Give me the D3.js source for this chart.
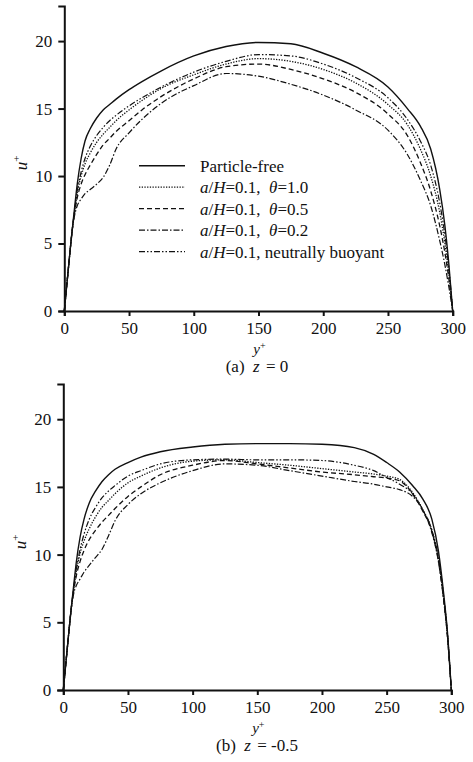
<!DOCTYPE html>
<html>
<head>
<meta charset="utf-8">
<script src="https://cdn.jsdelivr.net/npm/d3@7"></script>
<style>
  body { margin: 0; background: #fff; }
  svg { display: block; }
  text { font-family: "Liberation Serif", "Times New Roman", "DejaVu Serif", serif; fill: #111; }
</style>
</head>
<body>
<div id="container"></div>
<script>
/**
 * CONSTANTS AND GLOBALS
 * */
const width = 473,
  height = 762;

const yPlusA = [0, 2, 4, 6, 8, 10, 13, 16, 20, 25, 30, 35, 40, 50, 60, 75, 100, 125, 150, 175, 200, 225, 250, 265, 275, 283, 290, 294, 297, 300];
const yPlusB = [0, 2, 4, 6, 8, 10, 13, 16, 20, 25, 30, 35, 40, 50, 60, 75, 100, 125, 150, 175, 200, 225, 240, 250, 260, 270, 278, 285, 290, 294, 297, 300];

// (a) z = 0
const freeA    = [0, 2, 4, 5.9, 7.7, 9.4, 11.3, 12.6, 13.5, 14.3, 14.9, 15.3, 15.7, 16.4, 17.0, 17.8, 18.9, 19.6, 19.9, 19.8, 19.1, 18.1, 16.6, 15.0, 13.7, 12.0, 9.0, 6.3, 3.5, 0];
const theta10A = [0, 2, 4, 5.9, 7.4, 8.7, 10.0, 10.9, 11.7, 12.5, 13.1, 13.6, 14.1, 14.9, 15.6, 16.5, 17.5, 18.3, 18.7, 18.5, 17.9, 16.9, 15.3, 13.8, 12.0, 10.0, 7.3, 5.0, 2.8, 0];
const theta05A = [0, 2, 4, 5.9, 7.3, 8.4, 9.4, 10.1, 10.8, 11.6, 12.3, 12.8, 13.3, 14.1, 14.9, 15.9, 17.2, 18.1, 18.3, 17.9, 17.2, 16.2, 14.6, 13.0, 11.0, 8.9, 6.3, 4.3, 2.4, 0];
const theta02A = [0, 2, 4, 5.9, 7.1, 7.8, 8.3, 8.7, 9.0, 9.4, 9.9, 10.8, 12.0, 13.2, 14.2, 15.4, 16.7, 17.6, 17.4, 16.8, 16.0, 14.9, 13.4, 11.6, 9.7, 7.8, 5.2, 3.4, 1.8, 0];
const buoyantA = [0, 2, 4, 5.9, 7.5, 8.9, 10.3, 11.3, 12.2, 13.0, 13.6, 14.1, 14.5, 15.2, 15.8, 16.6, 17.7, 18.5, 19.0, 18.9, 18.3, 17.3, 15.8, 14.2, 12.6, 10.8, 8.0, 5.6, 3.2, 0];

// (b) z = -0.5
const freeB    = [0, 2, 4, 5.9, 7.7, 9.4, 11.3, 12.6, 13.8, 14.7, 15.4, 15.9, 16.3, 16.8, 17.2, 17.6, 17.95, 18.15, 18.2, 18.2, 18.15, 17.9, 17.4, 16.8, 16.1, 15.1, 14.1, 12.6, 10.3, 7.2, 4.3, 0];
const theta10B = [0, 2, 4, 5.9, 7.4, 8.7, 10.1, 11.0, 11.9, 12.8, 13.5, 14.0, 14.5, 15.3, 15.8, 16.4, 16.9, 17.0, 16.8, 16.6, 16.35, 16.1, 15.95, 15.8, 15.55, 14.6, 13.3, 11.8, 9.7, 6.9, 4.1, 0];
const theta05B = [0, 2, 4, 5.9, 7.3, 8.4, 9.5, 10.3, 11.1, 11.8, 12.4, 12.9, 13.4, 14.3, 15.0, 15.9, 16.6, 16.95, 16.7, 16.4, 16.1, 15.9, 15.75, 15.65, 15.45, 14.5, 13.2, 11.7, 9.6, 6.8, 4.0, 0];
const theta02B = [0, 2, 4, 5.9, 7.1, 7.7, 8.2, 8.7, 9.2, 9.8, 10.4, 11.4, 12.5, 13.7, 14.5, 15.3, 16.2, 16.7, 16.6, 16.2, 15.8, 15.4, 15.2, 15.0, 14.8, 14.3, 13.3, 11.6, 9.5, 6.7, 4.0, 0];
const buoyantB = [0, 2, 4, 5.9, 7.5, 8.9, 10.4, 11.5, 12.6, 13.5, 14.2, 14.7, 15.1, 15.8, 16.2, 16.7, 17.0, 17.05, 17.0, 17.0, 16.95, 16.6, 16.2, 15.7, 15.2, 14.5, 13.3, 11.8, 9.8, 7.0, 4.2, 0];

const xTicks = [0, 50, 100, 150, 200, 250, 300];
const yTicks = [0, 5, 10, 15, 20];
const xMax = 300, yMax = 22.6;

const legendLabels = [
  [["Particle-free", false]],
  [["a", true], ["/", false], ["H", true], ["=0.1,  ", false], ["θ", true], ["=1.0", false]],
  [["a", true], ["/", false], ["H", true], ["=0.1,  ", false], ["θ", true], ["=0.5", false]],
  [["a", true], ["/", false], ["H", true], ["=0.1,  ", false], ["θ", true], ["=0.2", false]],
  [["a", true], ["/", false], ["H", true], ["=0.1, neutrally buoyant", false]]
];

// line styles, same order as legend
const dashes = [null, "1.3,1.4", "5,3", "6,2,1.5,2", "6,2,1.5,2,1.5,2"];
const widths = [1.4, 1.3, 1.3, 1.2, 1.2];

const panels = [
  { xs: yPlusA, series: [freeA, theta10A, theta05A, theta02A, buoyantA],
    left: 64.3, right: 452.7, top: 6, bottom: 311, tag: "(a)", z: "= 0", legend: true },
  { xs: yPlusB, series: [freeB, theta10B, theta05B, theta02B, buoyantB],
    left: 63.3, right: 451.3, top: 384, bottom: 690, tag: "(b)", z: "= -0.5", legend: false }
];

const svg = d3.select("#container")
  .append("svg")
  .attr("width", width)
  .attr("height", height)
  .attr("font-family", '"Liberation Serif", "Times New Roman", serif');

svg.append("rect").attr("width", width).attr("height", height).attr("fill", "#fff");

panels.forEach(drawPanel);

function drawPanel(p) {
  const x = d3.scaleLinear().domain([0, xMax]).range([p.left, p.right]);
  const y = d3.scaleLinear().domain([0, yMax]).range([p.bottom, p.top]);

  const g = svg.append("g");

  const line = d3.line()
    .x(d => x(d[0]))
    .y(d => y(d[1]))
    .curve(d3.curveMonotoneX);

  p.series.forEach((vals, i) => {
    g.append("path")
      .datum(p.xs.map((v, j) => [v, vals[j]]))
      .attr("d", line)
      .attr("fill", "none")
      .attr("stroke", "#111")
      .attr("stroke-width", widths[i])
      .attr("stroke-dasharray", dashes[i]);
  });

  // axes
  const xAxis = g.append("g")
    .attr("transform", `translate(0,${p.bottom})`)
    .call(d3.axisBottom(x).tickValues(xTicks).tickSizeOuter(0).tickSize(5).tickPadding(6));
  const yAxis = g.append("g")
    .attr("transform", `translate(${p.left},0)`)
    .call(d3.axisLeft(y).tickValues(yTicks).tickSizeOuter(0).tickSize(6).tickPadding(6));

  [xAxis, yAxis].forEach(a => {
    a.attr("font-family", null);
    a.selectAll("path, line").attr("stroke", "#111").attr("stroke-width", 2);
    a.selectAll("text")
      .style("font-size", "17px")
      .attr("fill", "#111");
  });

  // y+ label
  const xl = g.append("text")
    .attr("x", x(150) + 1)
    .attr("y", p.bottom + 43)
    .attr("text-anchor", "middle")
    .style("font-size", "15px");
  xl.append("tspan").style("font-style", "italic").text("y");
  xl.append("tspan").attr("dy", -5).style("font-size", "10px").text("+");

  // u+ label
  const yl = g.append("text")
    .attr("transform", `translate(${p.left - 37},${p.bottom - 148}) rotate(-90)`)
    .attr("text-anchor", "middle")
    .style("font-size", "17px");
  yl.append("tspan").style("font-style", "italic").text("u");
  yl.append("tspan").attr("dy", -7).style("font-size", "11px").text("+");

  // caption
  const cap = g.append("text")
    .attr("x", 257)
    .attr("y", p.bottom + 61)
    .attr("text-anchor", "middle")
    .style("font-size", "17px")
    .style("white-space", "pre");
  cap.append("tspan").text(p.tag + "  ");
  cap.append("tspan").style("font-style", "italic").text("z");
  cap.append("tspan").attr("dx", 2).text(" " + p.z);

  if (p.legend) drawLegend(g);
}

function drawLegend(g) {
  const rowY = d3.scaleLinear().domain([0, 4]).range([165.7, 251.7]);
  legendLabels.forEach((parts, i) => {
    g.append("line")
      .attr("x1", 139).attr("x2", 185)
      .attr("y1", rowY(i)).attr("y2", rowY(i))
      .attr("stroke", "#111")
      .attr("stroke-width", widths[i])
      .attr("stroke-dasharray", dashes[i]);
    const t = g.append("text")
      .attr("x", 200)
      .attr("y", rowY(i) + 6)
      .style("font-size", "17px")
      .style("white-space", "pre");
    parts.forEach(([s, it]) => {
      t.append("tspan").style("font-style", it ? "italic" : "normal").text(s);
    });
  });
}
</script>
</body>
</html>
